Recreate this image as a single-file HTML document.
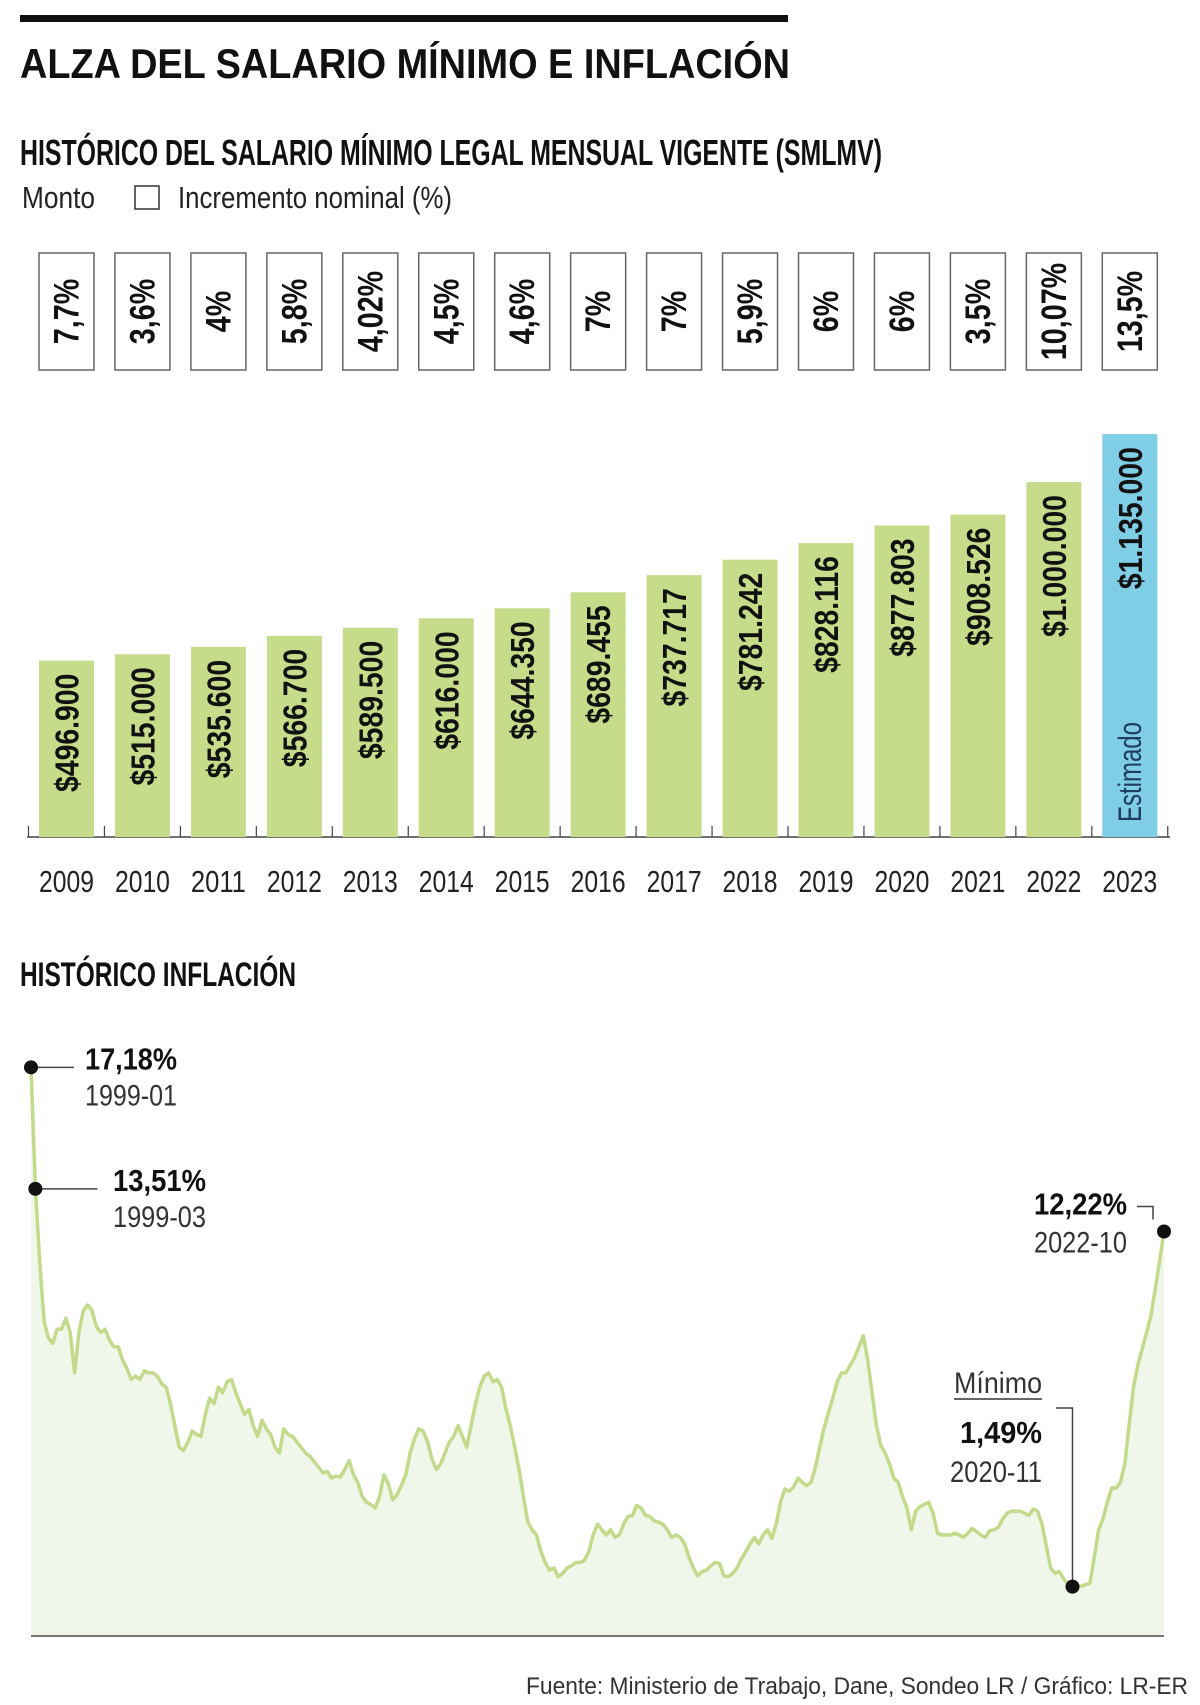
<!DOCTYPE html>
<html><head><meta charset="utf-8"><style>
html,body{margin:0;padding:0;background:#fff;}
svg{display:block;font-family:"Liberation Sans",sans-serif;}
</style></head><body>
<svg id="root" width="1200" height="1705" viewBox="0 0 1200 1705">
<rect x="20" y="15" width="768" height="7" fill="#111"/>
<text x="20" y="78" font-size="42" font-weight="bold" fill="#111" textLength="770" lengthAdjust="spacingAndGlyphs">ALZA DEL SALARIO MÍNIMO E INFLACIÓN</text>
<text x="20" y="165" font-size="36" font-weight="bold" fill="#111" textLength="862" lengthAdjust="spacingAndGlyphs">HISTÓRICO DEL SALARIO MÍNIMO LEGAL MENSUAL VIGENTE (SMLMV)</text>
<text x="22" y="208" font-size="31" fill="#222" textLength="73" lengthAdjust="spacingAndGlyphs">Monto</text>
<rect x="135" y="186" width="24" height="23" fill="#fff" stroke="#333" stroke-width="1.5"/>
<text x="178" y="208" font-size="31" fill="#222" textLength="274" lengthAdjust="spacingAndGlyphs">Incremento nominal (%)</text>
<g id="bars"></g>
<text x="20" y="986" font-size="34" font-weight="bold" fill="#111" textLength="276" lengthAdjust="spacingAndGlyphs">HISTÓRICO INFLACIÓN</text>
<g id="infl"></g>
<text x="1188" y="1694" font-size="24" fill="#333" text-anchor="end" textLength="662" lengthAdjust="spacingAndGlyphs">Fuente: Ministerio de Trabajo, Dane, Sondeo LR / Gráfico: LR-ER</text>
</svg>
<script>
const years = ['2009','2010','2011','2012','2013','2014','2015','2016','2017','2018','2019','2020','2021','2022','2023'];
const salaries = [496900,515000,535600,566700,589500,616000,644350,689455,737717,781242,828116,877803,908526,1000000,1135000];
const salaryLabels = ['$496.900','$515.000','$535.600','$566.700','$589.500','$616.000','$644.350','$689.455','$737.717','$781.242','$828.116','$877.803','$908.526','$1.000.000','$1.135.000'];
const increments = ['7,7%','3,6%','4%','5,8%','4,02%','4,5%','4,6%','7%','7%','5,9%','6%','6%','3,5%','10,07%','13,5%'];
const inflStart = '1999-01';
const inflation = [17.18,13.51,11.32,9.50,9.01,8.84,9.27,9.27,9.60,9.17,7.95,9.17,9.83,10.0,9.83,9.34,9.17,9.27,8.94,8.74,8.74,8.34,8.08,7.75,7.85,7.75,8.01,7.95,7.95,7.85,7.62,7.52,7.02,6.36,5.70,5.60,5.86,6.19,6.09,6.03,6.69,7.19,7.02,7.52,7.35,7.68,7.75,7.35,7.02,6.69,6.85,6.36,6.03,6.52,6.26,6.09,5.70,5.53,6.26,6.09,6.03,5.86,5.70,5.53,5.43,5.26,5.10,4.93,4.97,4.77,4.83,4.80,5.03,5.30,4.87,4.64,4.21,4.04,3.97,3.87,4.21,4.87,4.60,4.11,4.27,4.54,4.87,5.53,5.96,6.26,6.19,5.86,5.36,5.03,5.20,5.53,5.86,6.03,6.36,6.03,5.70,6.36,7.02,7.52,7.85,7.95,7.68,7.75,7.52,6.85,6.36,5.70,5.03,4.21,3.44,3.21,3.05,2.55,2.22,1.99,2.05,1.79,1.89,2.05,2.12,2.22,2.22,2.28,2.55,3.05,3.38,3.21,3.05,3.21,2.98,3.05,3.38,3.61,3.64,3.94,3.87,3.64,3.61,3.48,3.44,3.38,3.21,2.98,3.05,2.98,2.78,2.38,2.05,1.82,1.95,1.99,2.12,2.22,2.19,1.82,1.79,1.89,2.05,2.32,2.55,2.78,2.98,2.78,3.05,3.21,2.95,3.38,4.04,4.44,4.37,4.50,4.77,4.64,4.54,4.64,5.10,5.70,6.29,6.75,7.19,7.68,7.95,7.95,8.18,8.41,8.74,9.07,8.34,7.35,6.36,5.76,5.53,5.20,4.77,4.64,4.21,3.87,3.21,3.77,3.91,3.97,4.04,3.71,3.11,3.05,3.05,3.05,3.11,3.05,2.98,3.11,3.25,3.15,3.05,2.98,3.18,3.21,3.28,3.54,3.71,3.77,3.77,3.77,3.71,3.64,3.84,3.77,3.38,2.72,2.05,1.89,1.95,1.72,1.56,1.49,1.52,1.50,1.55,1.60,2.38,3.21,3.54,4.04,4.47,4.47,4.64,5.20,6.36,7.52,8.18,8.68,9.17,9.67,10.50,11.32,12.22];
const NS='http://www.w3.org/2000/svg';
function mk(tag, parent){const e=document.createElementNS(NS,tag);parent.appendChild(e);return e;}

// ---- salary bar chart ----
const bars=document.getElementById('bars');
const baseY=837, pxPer=370*1.0888/1135000;
const xBand=i=>39+i*75.95, bw=55;
const ySal=v=>baseY-v*pxPer;
const axis=mk('line',bars);


axis.setAttribute('x1',27);axis.setAttribute('x2',1170);axis.setAttribute('y1',baseY);axis.setAttribute('y2',baseY);
axis.setAttribute('stroke','#444');axis.setAttribute('stroke-width','1.5');
for(let i=0;i<=years.length;i++){
  const tk=mk('line',bars);
  
  
  const tx=xBand(i)-10.5;
  tk.setAttribute('x1',tx);tk.setAttribute('x2',tx);tk.setAttribute('y1',baseY-11);tk.setAttribute('y2',baseY);
  tk.setAttribute('stroke','#444');tk.setAttribute('stroke-width','1.2');
}
years.forEach((yr,i)=>{
  const x=xBand(i), cx=x+bw/2;
  const last=i===years.length-1;
  const box=mk('rect',bars);
  
  
  box.setAttribute('x',x);box.setAttribute('y',253);box.setAttribute('width',bw);box.setAttribute('height',117);
  box.setAttribute('fill','#fff');box.setAttribute('stroke','#666');box.setAttribute('stroke-width','1.5');
  const pt=mk('text',bars);
  
  
  pt.setAttribute('transform',`translate(${cx+12},311.5) rotate(-90) scale(0.82,1)`);
  pt.setAttribute('text-anchor','middle');pt.setAttribute('font-size','35');pt.setAttribute('font-weight','bold');pt.setAttribute('fill','#111');
  pt.textContent=increments[i];
  const r=mk('rect',bars);
  
  
  const top=ySal(salaries[i]);
  r.setAttribute('x',x);r.setAttribute('y',top);r.setAttribute('width',bw);r.setAttribute('height',baseY-top);
  r.setAttribute('fill',last?'#80cde6':'#c6dc8a');
  const vt=mk('text',bars);
  
  
  vt.setAttribute('font-size','33');vt.setAttribute('font-weight','bold');vt.setAttribute('fill','#111');
  vt.setAttribute('transform',`translate(${cx+12},${top+13}) rotate(-90) scale(0.86,1)`);
  vt.setAttribute('text-anchor','end');
  vt.textContent=salaryLabels[i];
  const yl=mk('text',bars);
  
  
  yl.setAttribute('x',cx);yl.setAttribute('y',892);yl.setAttribute('text-anchor','middle');
  yl.setAttribute('font-size','31');yl.setAttribute('fill','#222');
  yl.setAttribute('textLength','55');yl.setAttribute('lengthAdjust','spacingAndGlyphs');
  yl.textContent=yr;
  if(last){
    const est=mk('text',bars);
    
    
    est.setAttribute('transform',`translate(${cx+11},822) rotate(-90) scale(0.75,1)`);
    est.setAttribute('font-size','32');est.setAttribute('fill','#1f3d5c');
    est.textContent='Estimado';
  }
});

// ---- inflation chart ----
const g=document.getElementById('infl');
const x0=31,x1=1164,zeroY=1636,pxPct=33.1;
const xI=i=>x0+i*(x1-x0)/(inflation.length-1);
const yI=v=>zeroY-v*pxPct;
let d='';
inflation.forEach((v,i)=>{d+=(i?'L':'M')+xI(i).toFixed(1)+' '+yI(v).toFixed(1);});
const area=mk('path',g);


area.setAttribute('d',d+`L${x1} ${zeroY}L${x0} ${zeroY}Z`);area.setAttribute('fill','#f1f6ea');
const line=mk('path',g);


line.setAttribute('d',d);line.setAttribute('fill','none');line.setAttribute('stroke','#c2da8a');line.setAttribute('stroke-width','3.5');line.setAttribute('stroke-linejoin','round');
const base=mk('line',g);


base.setAttribute('x1',x0);base.setAttribute('x2',x1);base.setAttribute('y1',zeroY);base.setAttribute('y2',zeroY);
base.setAttribute('stroke','#777');base.setAttribute('stroke-width','2');

let minI=0;inflation.forEach((v,i)=>{if(v<inflation[minI])minI=i;});
function dot(i,name){
  const c=mk('circle',g);
  
  
  c.setAttribute('cx',xI(i));c.setAttribute('cy',yI(inflation[i]));c.setAttribute('r','7');c.setAttribute('fill','#111');
}
function pl(pts,name){
  const p=mk('polyline',g);
  
  
  p.setAttribute('points',pts);p.setAttribute('fill','none');p.setAttribute('stroke','#444');p.setAttribute('stroke-width','1.5');
}
function lab(x,y,txt,bold,anchor,name,len){
  const t=mk('text',g);
  
  
  t.setAttribute('x',x);t.setAttribute('y',y);t.setAttribute('font-size',bold?'31':'30');
  if(bold)t.setAttribute('font-weight','bold');
  t.setAttribute('fill',bold?'#111':'#333');t.setAttribute('text-anchor',anchor);
  t.setAttribute('textLength',len);t.setAttribute('lengthAdjust','spacingAndGlyphs');
  t.textContent=txt;return t;
}
const fmt=v=>v.toFixed(2).replace('.',',')+'%';
let px=xI(0),py=yI(inflation[0]);
pl(`${px},${py} ${px+43},${py}`,'callout-line-first');
lab(85,py+2,fmt(inflation[0]),true,'start','callout-value-first',92);
lab(85,py+38,'1999-01',false,'start','callout-date-first',92);
dot(0,'point-first');
px=xI(1);py=yI(inflation[1]);
pl(`${px},${py} ${px+62},${py}`,'callout-line-second');
lab(113,py+2,fmt(inflation[1]),true,'start','callout-value-second',93);
lab(113,py+38,'1999-03',false,'start','callout-date-second',93);
dot(1,'point-second');
const li=inflation.length-1;px=xI(li);py=yI(inflation[li]);
pl(`1137,${py-25} ${px-11},${py-25} ${px-11},${py-12}`,'callout-line-last');
lab(1127,py-17,fmt(inflation[li]),true,'end','callout-value-last',93);
lab(1127,py+21,'2022-10',false,'end','callout-date-last',93);
dot(li,'point-last');
px=xI(minI);py=yI(inflation[minI]);
pl(`1056,1408 ${px},1408 ${px},${py}`,'callout-line-min');
lab(1042,1393,'Mínimo',false,'end','callout-title-min',88);
const ul=mk('line',g);


ul.setAttribute('x1',954);ul.setAttribute('x2',1042);ul.setAttribute('y1',1399);ul.setAttribute('y2',1399);ul.setAttribute('stroke','#333');ul.setAttribute('stroke-width','1.5');
lab(1042,1443,fmt(inflation[minI]),true,'end','callout-value-min',82);
lab(1042,1482,'2020-11',false,'end','callout-date-min',92);
dot(minI,'point-min');
</script>
</body></html>
